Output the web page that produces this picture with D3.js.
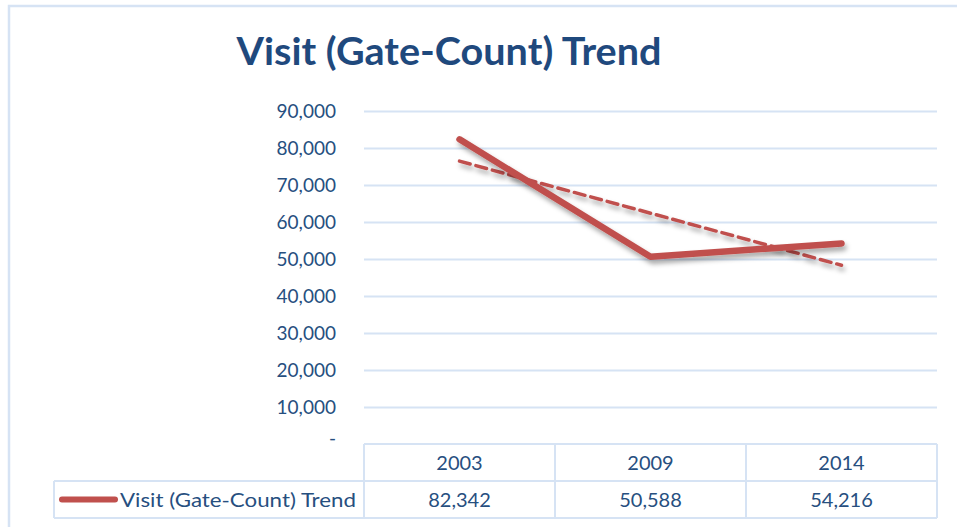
<!DOCTYPE html>
<html><head><meta charset="utf-8">
<script src="https://cdn.jsdelivr.net/npm/d3@7"></script>
<style>body{margin:0;background:#fff;}svg{display:block;font-family:Lato,"Open Sans",sans-serif;}</style>
</head><body>
<script>
const title = "Visit (Gate-Count) Trend";
const seriesName = "Visit (Gate-Count) Trend";
const categories = ["2003", "2009", "2014"];
const values = [82342, 50588, 54216];
const yTicks = [0, 10000, 20000, 30000, 40000, 50000, 60000, 70000, 80000, 90000];

const W = 957, H = 527;
const plotL = 364, plotR = 937, plotT = 111, plotB = 444;
const rowH = 37;
const textColor = "#274f7f", gridColor = "#d6e3f4", lineColor = "#c0504d";

const svg = d3.select("body").append("svg").attr("width", W).attr("height", H);
const defs = svg.append("defs");
const f = defs.append("filter").attr("id", "sh").attr("x", "-10%").attr("y", "-20%").attr("width", "130%").attr("height", "160%");
f.append("feDropShadow").attr("dx", 2).attr("dy", 4).attr("stdDeviation", 2.5).attr("flood-color", "#000").attr("flood-opacity", 0.35);

// outer border
svg.append("rect").attr("x", 9).attr("y", 6).attr("width", W + 20).attr("height", H + 20)
  .attr("fill", "none").attr("stroke", gridColor).attr("stroke-width", 2.5);

// title
svg.append("text").attr("x", 449).attr("y", 65).attr("text-anchor", "middle")
  .attr("font-size", 38).attr("font-weight", "bold").attr("fill", "#1f497d")
  .attr("textLength", 425).attr("lengthAdjust", "spacingAndGlyphs").text(title);

const x = d3.scaleBand().domain(categories).range([plotL, plotR]);
const y = d3.scaleLinear().domain([0, 90000]).range([plotB, plotT]);

// gridlines
const yAxis = d3.axisLeft(y).tickValues(yTicks).tickSize(-(plotR - plotL))
  .tickFormat(d => d === 0 ? "-" : d3.format(",")(d));
const ga = svg.append("g").attr("transform", `translate(${plotL},0)`).call(yAxis);
ga.select(".domain").remove();
ga.selectAll(".tick line").attr("stroke", gridColor).attr("stroke-width", 2)
  .attr("display", d => d === 0 ? "none" : null);
ga.selectAll(".tick text").attr("x", -28).attr("fill", textColor).attr("font-size", 19)
  .attr("font-family", "Lato, 'Open Sans', sans-serif")
  .attr("dy", d => d === 0 ? "0em" : "0.32em");

// data table
const tbl = svg.append("g").attr("stroke", gridColor).attr("stroke-width", 2).attr("fill", "none");
tbl.append("line").attr("x1", plotL).attr("x2", plotR).attr("y1", plotB).attr("y2", plotB);
tbl.append("line").attr("x1", 54).attr("x2", plotR).attr("y1", plotB + rowH).attr("y2", plotB + rowH);
tbl.append("line").attr("x1", 54).attr("x2", plotR).attr("y1", plotB + 2 * rowH).attr("y2", plotB + 2 * rowH);
tbl.append("line").attr("x1", 54).attr("x2", 54).attr("y1", plotB + rowH).attr("y2", plotB + 2 * rowH);
const colEdges = [plotL].concat(categories.map(c => x(c) + x.bandwidth()));
colEdges.forEach(e => tbl.append("line").attr("x1", e).attr("x2", e).attr("y1", plotB).attr("y2", plotB + 2 * rowH));

svg.append("g").selectAll("text").data(categories).join("text")
  .attr("x", d => x(d) + x.bandwidth() / 2).attr("y", plotB + rowH / 2).attr("dy", "0.35em")
  .attr("text-anchor", "middle").attr("fill", textColor).attr("font-size", 20).text(d => d);
svg.append("g").selectAll("text").data(values).join("text")
  .attr("x", (d, i) => x(categories[i]) + x.bandwidth() / 2).attr("y", plotB + rowH * 1.5).attr("dy", "0.35em")
  .attr("text-anchor", "middle").attr("fill", textColor).attr("font-size", 20).text(d => d3.format(",")(d));

// legend key in table
svg.append("line").attr("x1", 62).attr("x2", 115).attr("y1", plotB + rowH * 1.5).attr("y2", plotB + rowH * 1.5)
  .attr("stroke", lineColor).attr("stroke-width", 6).attr("stroke-linecap", "round");
svg.append("text").attr("x", 120).attr("y", plotB + rowH * 1.5).attr("dy", "0.35em")
  .attr("fill", textColor).attr("font-size", 20).attr("textLength", 236).attr("lengthAdjust", "spacingAndGlyphs")
  .text(seriesName);

// linear trendline (least squares over category index)
const n = values.length;
const idx = d3.range(1, n + 1);
const mx = d3.mean(idx), my = d3.mean(values);
const slope = d3.sum(idx.map((k, i) => (k - mx) * (values[i] - my))) / d3.sum(idx.map(k => (k - mx) ** 2));
const trend = idx.map(k => my + slope * (k - mx));

const line = d3.line().x((d, i) => x(categories[i]) + x.bandwidth() / 2).y(d => y(d));
svg.append("path").datum(trend).attr("d", line).attr("fill", "none").attr("stroke", lineColor)
  .attr("stroke-width", 3.5).attr("stroke-dasharray", "11,6").attr("stroke-linecap", "round").attr("filter", "url(#sh)");
svg.append("path").datum(values).attr("d", line).attr("fill", "none").attr("stroke", lineColor)
  .attr("stroke-width", 6.5).attr("stroke-linecap", "round").attr("stroke-linejoin", "round").attr("filter", "url(#sh)");
</script>
</body></html>
